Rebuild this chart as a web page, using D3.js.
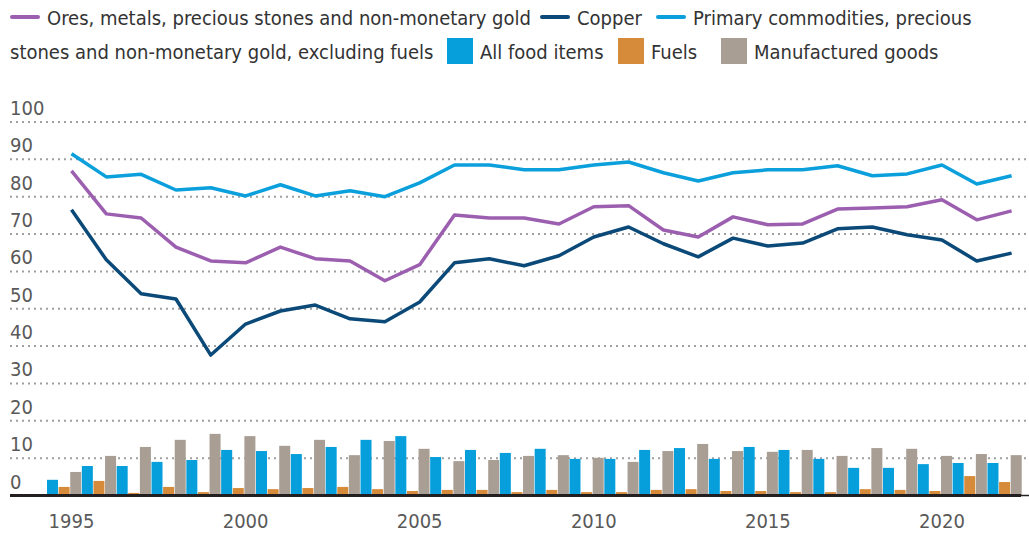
<!DOCTYPE html>
<html>
<head>
<meta charset="utf-8">
<script src="https://cdn.jsdelivr.net/npm/d3@7/dist/d3.min.js"></script>
<style>
  body { margin: 0; background: #fff; }
  svg text { font-family: 'Liberation Sans Narrow', 'DejaVu Sans Condensed', sans-serif; }
</style>
</head>
<body>
<svg id="chart" width="1029" height="534"></svg>
<script>
const years = d3.range(1995, 2023);

// lines
const ores = [86.9, 75.4, 74.3, 66.5, 62.8, 62.3, 66.5, 63.4, 62.8, 57.5, 61.8, 75.1, 74.3, 74.3, 72.7, 77.3, 77.6, 71.1, 69.2, 74.6, 72.5, 72.7, 76.7, 77.0, 77.3, 79.2, 73.8, 76.2];
const copper = [76.5, 63.1, 54.0, 52.6, 37.6, 45.9, 49.4, 51.0, 47.3, 46.5, 51.8, 62.3, 63.4, 61.5, 64.2, 69.2, 71.9, 67.4, 63.9, 68.9, 66.8, 67.6, 71.4, 71.9, 69.8, 68.4, 62.8, 64.9];
const primary = [91.5, 85.3, 86.0, 81.8, 82.4, 80.2, 83.2, 80.2, 81.6, 80.0, 83.7, 88.5, 88.5, 87.2, 87.2, 88.5, 89.3, 86.4, 84.2, 86.4, 87.2, 87.2, 88.3, 85.6, 86.1, 88.5, 83.4, 85.6];

// bars
const food = [4.2, 7.9, 7.9, 9.0, 9.5, 12.2, 11.9, 11.1, 13.0, 14.9, 15.9, 10.3, 12.2, 11.4, 12.5, 9.8, 9.8, 12.2, 12.7, 9.8, 13.0, 12.2, 9.8, 7.4, 7.4, 8.4, 8.7, 8.7];
const fuels = [2.3, 3.9, 0.7, 2.3, 0.9, 2.0, 1.7, 2.0, 2.3, 1.7, 1.2, 1.5, 1.5, 0.9, 1.5, 0.9, 0.9, 1.5, 1.7, 1.2, 1.2, 0.9, 0.9, 1.7, 1.5, 1.2, 5.2, 3.6];
const manuf = [6.3, 10.6, 13.0, 14.9, 16.5, 15.9, 13.3, 14.9, 10.8, 14.6, 12.5, 9.2, 9.5, 10.6, 10.8, 10.1, 9.0, 11.9, 13.8, 11.9, 11.7, 12.2, 10.6, 12.7, 12.5, 10.6, 11.1, 10.8];

const yTicks = [0, 10, 20, 30, 40, 50, 60, 70, 80, 90, 100];
const xTicks = [1995, 2000, 2005, 2010, 2015, 2020];

const lineSeries = [
  {name: 'Ores, metals, precious stones and non-monetary gold', values: ores, color: '#9c5fb0'},
  {name: 'Copper', values: copper, color: '#0b4a78'},
  {name: 'Primary commodities, precious stones and non-monetary gold, excluding fuels', values: primary, color: '#0ba0dc'}
];
const barSeries = [
  {name: 'All food items', values: food, color: '#069fdb'},
  {name: 'Fuels', values: fuels, color: '#d68b3a'},
  {name: 'Manufactured goods', values: manuf, color: '#a89e94'}
];

const svg = d3.select('#chart');

let y = d3.scaleLinear().domain([0, 100]).range([495.5, 122]);
let x = d3.scaleLinear().domain([1995, 2022]).range([71.5, 1011.6]);
let xBand = d3.scaleBand().domain(years).range([47, 1022.3]).padding(0);
let xSub = d3.scaleBand().domain(barSeries.map(function (d) { return d.name; }))
    .range([0, xBand.bandwidth()]).padding(0);

// gridlines + y labels
let grid = svg.append('g');
grid.selectAll('line')
  .data(yTicks.filter(function (d) { return d > 0; }))
  .enter().append('line')
    .attr('x1', 10).attr('x2', 1029)
    .attr('y1', function (d) { return y(d); })
    .attr('y2', function (d) { return y(d); })
    .attr('stroke', '#a0a0a0')
    .attr('stroke-width', 2)
    .attr('stroke-dasharray', '2,4');
grid.selectAll('text')
  .data(yTicks)
  .enter().append('text')
    .attr('x', 10)
    .attr('y', function (d) { return y(d) - 7; })
    .attr('fill', '#595959')
    .attr('font-size', 20)
    .text(function (d) { return d; });

// bars
let groups = svg.append('g').selectAll('g')
  .data(years)
  .enter().append('g')
    .attr('transform', function (d) { return 'translate(' + xBand(d) + ',0)'; });
groups.selectAll('rect')
  .data(function (d, i) {
    return barSeries.map(function (s) { return {key: s.name, value: s.values[i], color: s.color}; });
  })
  .enter().append('rect')
    .attr('x', function (d) { return xSub(d.key); })
    .attr('width', xSub.bandwidth() - 0.6)
    .attr('y', function (d) { return y(d.value); })
    .attr('height', function (d) { return y(0) - y(d.value); })
    .attr('fill', function (d) { return d.color; });

// x axis line
svg.append('line')
  .attr('x1', 10).attr('x2', 1021)
  .attr('y1', 495.5).attr('y2', 495.5)
  .attr('stroke', '#231f20')
  .attr('stroke-width', 3);
svg.append('line')
  .attr('x1', 1021).attr('x2', 1029)
  .attr('y1', 495.5).attr('y2', 495.5)
  .attr('stroke', '#231f20')
  .attr('stroke-width', 1.5);

svg.append('g').selectAll('text')
  .data(xTicks)
  .enter().append('text')
    .attr('x', function (d) { return x(d); })
    .attr('y', 528)
    .attr('text-anchor', 'middle')
    .attr('fill', '#595959')
    .attr('font-size', 20)
    .text(function (d) { return d; });

// lines
let line = d3.line()
    .x(function (d, i) { return x(years[i]); })
    .y(function (d) { return y(d); });
svg.append('g').selectAll('path')
  .data(lineSeries)
  .enter().append('path')
    .attr('d', function (d) { return line(d.values); })
    .attr('fill', 'none')
    .attr('stroke', function (d) { return d.color; })
    .attr('stroke-width', 3.5)
    .attr('stroke-linejoin', 'round');

// legend
let legend = svg.append('g').attr('font-size', 20).attr('fill', '#333');
function legLine (x0, y0, color, label) {
  legend.append('line')
    .attr('x1', x0).attr('x2', x0 + 26)
    .attr('y1', y0).attr('y2', y0)
    .attr('stroke', color).attr('stroke-width', 4).attr('stroke-linecap', 'round');
  legend.append('text').attr('x', x0 + 35).attr('y', y0 + 8).text(label);
}
function legBox (x0, y0, color, label) {
  legend.append('rect')
    .attr('x', x0).attr('y', y0 - 13).attr('width', 26).attr('height', 26)
    .attr('fill', color);
  legend.append('text').attr('x', x0 + 33).attr('y', y0 + 8).text(label);
}
legLine(12, 17, lineSeries[0].color, lineSeries[0].name);
legLine(542, 17, lineSeries[1].color, lineSeries[1].name);
legLine(658, 17, lineSeries[2].color, 'Primary commodities, precious');
legend.append('text').attr('x', 10).attr('y', 59).text('stones and non-monetary gold, excluding fuels');
legBox(447, 51, barSeries[0].color, barSeries[0].name);
legBox(618, 51, barSeries[1].color, barSeries[1].name);
legBox(721, 51, barSeries[2].color, barSeries[2].name);
</script>
</body>
</html>
